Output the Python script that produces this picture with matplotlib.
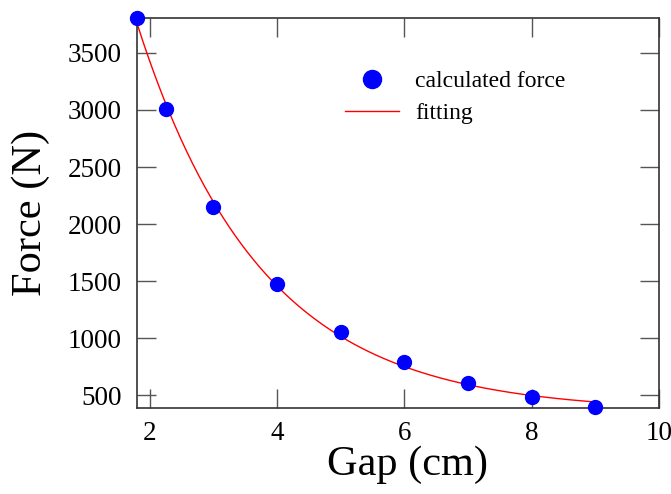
import numpy as np
import matplotlib
matplotlib.use("Agg")
import matplotlib.pyplot as plt

gap_cm = [1.8, 2.25, 3, 4, 5, 6, 7, 8, 9]
force_n = [3810, 3005, 2150, 1472, 1052, 788, 605, 482, 392]
xticks = [2, 4, 6, 8, 10]
yticks = [500, 1000, 1500, 2000, 2500, 3000, 3500]

x = np.array(gap_cm, dtype=float)
y = np.array(force_n, dtype=float)

# exponential-decay fit y = A*exp(-x/t) + y0 (grid search on t, linear lstsq for A, y0)
best = None
for t in np.linspace(0.5, 10, 2000):
    M = np.column_stack([np.exp(-x / t), np.ones_like(x)])
    coef, res, *_ = np.linalg.lstsq(M, y, rcond=None)
    err = np.sum((M @ coef - y) ** 2)
    if best is None or err < best[0]:
        best = (err, t, coef)
_, tb, (A, y0) = best
xf = np.linspace(x.min(), x.max(), 300)
yf = A * np.exp(-xf / tb) + y0

plt.rcParams['font.family'] = ['Liberation Serif', 'DejaVu Serif']

fig = plt.figure(figsize=(6.71, 4.94), dpi=100)
ax = fig.add_axes([137 / 671, 1 - 408 / 494, (659 - 137) / 671, (408 - 18) / 494])

ax.plot(xf, yf, color='red', lw=1.0, label='fitting', zorder=2)
ax.plot(x, y, 'o', color='blue', ms=10, label='calculated force', clip_on=False, zorder=3)

ax.set_xlim(1.8, 10)
ax.set_ylim(386, 3807)
ax.set_xticks(xticks)
ax.set_yticks(yticks)
ax.tick_params(direction='in', length=14, width=1.0, labelsize=19.5, top=True, right=True,
               colors='#555555', labelcolor='black')
ax.tick_params(axis='x', pad=9)
ax.tick_params(axis='y', pad=11)
for s in ax.spines.values():
    s.set_linewidth(1.2)
    s.set_color('#333333')

ax.set_xlabel('Gap (cm)', fontsize=30.5, labelpad=2)
ax.set_ylabel('Force (N)', fontsize=30.5, labelpad=13)
ax.xaxis.set_label_coords(0.518, -0.095)

h, l = ax.get_legend_handles_labels()
leg = ax.legend([h[1], h[0]], [l[1], l[0]], loc='upper left', bbox_to_anchor=(0.357, 0.92),
                frameon=False, fontsize=17, handlelength=2.3, handletextpad=0.7,
                labelspacing=0.45, markerscale=1.3)

fig.savefig('out.png', dpi=100)
